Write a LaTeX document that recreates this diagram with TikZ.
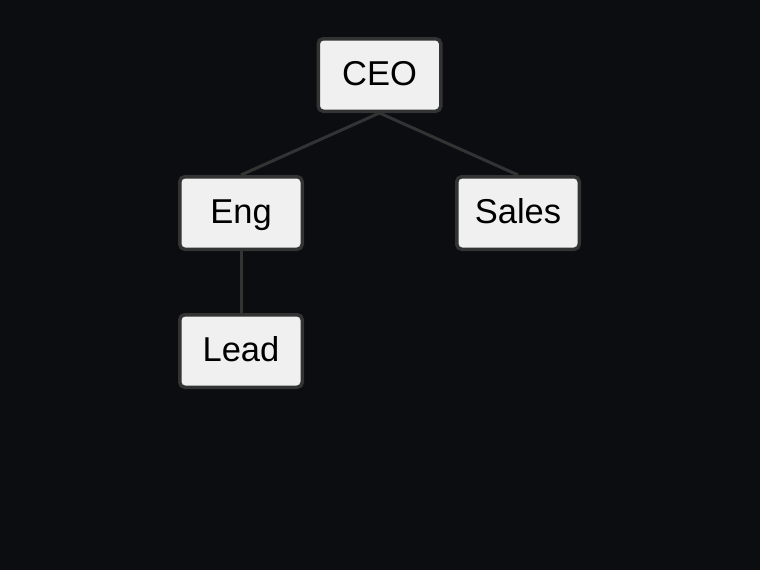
\documentclass[tikz,border=0pt]{standalone}
\usepackage{fontspec}
\setmainfont{Liberation Sans}
\usepackage{tikz}
\usetikzlibrary{
    positioning
}
\definecolor{bgdark}{HTML}{0C0D11}
\definecolor{boxfill}{HTML}{F0F0F0}
\definecolor{boxline}{HTML}{333333}
\tikzset{
    orgbox/.style={
        shape=rectangle, rounded corners=5pt, draw=boxline, fill=boxfill,
        line width=3.5pt, minimum width=122.5pt, minimum height=72.5pt,
        inner sep=0pt, font=\fontsize{34.5}{40}\selectfont, text=black,
        text height=25pt, text depth=4pt
    },
    link/.style={
        draw=boxline, line width=3pt
    },
}

\begin{document}
\begin{tikzpicture}[x=1pt,y=-1pt]
    \fill[bgdark] (0,0) rectangle (760,570);
    \useasboundingbox (0,0) rectangle (760,570);
    \node[orgbox] (ceo) at (379.5,75) {CEO};
    \node[orgbox] (eng) at (241,213) {Eng};
    \node[orgbox] (sales) at (518,213) {Sales};
    \node[orgbox, below=62pt of eng] (lead) {Lead};
    % connectors
    \draw[link] (ceo.south) -- (eng.north);
    \draw[link] (ceo.south) -- (sales.north);
    \draw[link] (eng.south) -- (lead.north);
\end{tikzpicture}
\end{document}
